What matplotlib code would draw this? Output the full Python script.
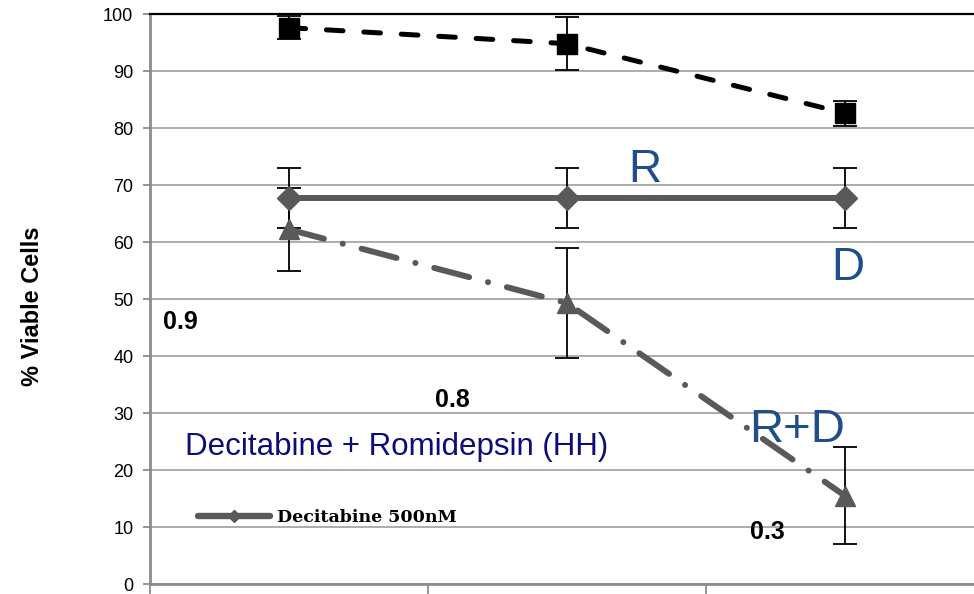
import matplotlib.pyplot as plt
from matplotlib.lines import Line2D

plt.rcParams['font.family'] = ['Liberation Sans', 'DejaVu Sans']
plt.rcParams['lines.scale_dashes'] = False

# ---------------------- Data ----------------------
x_pos = [0.5, 1.5, 2.5]

ctrl_vals = [97.6, 94.8, 82.6]
ctrl_err = [2.0, 4.7, 2.2]

dec_vals = [67.7, 67.7, 67.7]
dec_err = [5.2, 5.2, 5.2]

combo_vals = [62.2, 49.3, 15.5]
combo_err = [7.2, 9.6, 8.5]

y_ticks = [0, 10, 20, 30, 40, 50, 60, 70, 80, 90, 100]
x_ticks = [0, 1, 2, 3]

grey = '#595959'
axis_grey = '#8c8c8c'

# ---------------------- Figure ----------------------
fig = plt.figure(figsize=(9.74, 5.94), dpi=100)
ax = fig.add_axes([0.154, 0.0168, 0.856, 0.9596])

# error bars underneath the markers
for vals, err in [(ctrl_vals, ctrl_err), (dec_vals, dec_err), (combo_vals, combo_err)]:
    ax.errorbar(x_pos, vals, yerr=err, fmt='none', ecolor='black',
                elinewidth=1.3, capsize=8.5, capthick=1.3, zorder=3)

ax.plot(x_pos, ctrl_vals, color='black', lw=3.6, dashes=[12, 15],
        dash_capstyle='round', marker='s', ms=14, mfc='black', mec='black', zorder=4)
ax.plot(x_pos, dec_vals, color=grey, lw=4.3, marker='D', ms=12,
        mfc=grey, mec=grey, zorder=4)
ax.plot(x_pos, combo_vals, color=grey, lw=4.3, dashes=[26, 14, 0.1, 14],
        dash_capstyle='round', marker='^', ms=15, mfc=grey, mec=grey, zorder=4)

# ---------------------- Axes formatting ----------------------
ax.set_xlim(0, 3)
ax.set_ylim(0, 100)
ax.set_yticks(y_ticks)
ax.set_xticks(x_ticks)
ax.set_xticklabels([])
ax.tick_params(axis='y', direction='out', length=5, width=1.3, color=axis_grey,
               labelsize=13, pad=7)
ax.tick_params(axis='x', direction='out', length=9, width=1.3, color=axis_grey)
ax.yaxis.grid(True, color='#a6a6a6', lw=1.3)
ax.set_axisbelow(True)

ax.spines['left'].set_color(axis_grey)
ax.spines['left'].set_linewidth(2)
ax.spines['bottom'].set_color(axis_grey)
ax.spines['bottom'].set_linewidth(2)
ax.spines['top'].set_color('black')
ax.spines['top'].set_linewidth(1.6)
ax.spines['right'].set_visible(False)

ax.set_ylabel('% Viable Cells', fontsize=17, fontweight='bold', va='center')
ax.yaxis.set_label_coords(-0.141, 0.487)

# ---------------------- Annotations ----------------------
blue = '#1f4e8a'
ax.text(1.78, 72.6, 'R', color=blue, fontsize=33, ha='center', va='center')
ax.text(2.51, 55.4, 'D', color=blue, fontsize=33, ha='center', va='center')
ax.text(2.33, 27.0, 'R+D', color=blue, fontsize=34, ha='center', va='center')
ax.text(0.126, 24.0, 'Decitabine + Romidepsin (HH)', color='#0b0b7a',
        fontsize=22.5, ha='left', va='center')

for lbl, xx, yy in [('0.9', 0.047, 46.0), ('0.8', 1.025, 32.3), ('0.3', 2.16, 9.1)]:
    ax.text(xx, yy, lbl, fontsize=18, fontweight='bold', ha='left', va='center')

handle = Line2D([], [], color=grey, lw=4.6, marker='D', ms=6, mfc=grey, mec=grey,
                solid_capstyle='round')
ax.legend([handle], ['Decitabine 500nM'], loc='center left',
          bbox_to_anchor=(0.058, 0.116), frameon=False, borderpad=0,
          borderaxespad=0, handlelength=4.1, handletextpad=0.45,
          prop={'family': 'DejaVu Serif', 'weight': 'bold', 'size': 12.5})

fig.savefig('out.png', dpi=100)
